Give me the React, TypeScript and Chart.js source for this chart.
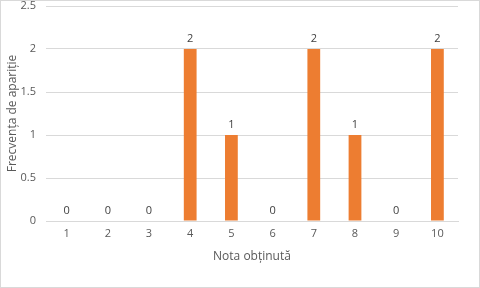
import React, { useEffect, useRef } from "react";
import { Chart, registerables } from "chart.js";

Chart.register(...registerables);

const categories = ["1", "2", "3", "4", "5", "6", "7", "8", "9", "10"];
const frequencies = [0, 0, 0, 2, 1, 0, 2, 1, 0, 2];
const yTitle = "Frecvența de apariție";
const xTitle = "Nota obținută";

const FONT = "'Open Sans', 'DejaVu Sans', sans-serif";

const labelPlugin = {
  id: "valueLabels",
  afterDatasetsDraw(chart: any) {
    const ctx = chart.ctx;
    const meta = chart.getDatasetMeta(0);
    ctx.save();
    ctx.fillStyle = "#404040";
    ctx.font = `11px ${FONT}`;
    ctx.textAlign = "center";
    ctx.textBaseline = "bottom";
    meta.data.forEach((bar: any, i: number) => {
      ctx.fillText(String(frequencies[i]), bar.x, bar.y - 5);
    });
    ctx.restore();
  },
};

export default function App() {
  const ref = useRef<HTMLCanvasElement>(null);
  useEffect(() => {
    document.body.style.margin = "0";
    const chart = new Chart(ref.current!, {
      type: "bar",
      data: {
        labels: categories,
        datasets: [
          {
            data: frequencies,
            backgroundColor: "#ED7D31",
            barPercentage: 0.31,
            categoryPercentage: 1,
          },
        ],
      },
      options: {
        animation: false,
        responsive: false,
        devicePixelRatio: 1,
        layout: { padding: { top: 5, right: 21, bottom: 19, left: 0 } },
        plugins: { legend: { display: false }, tooltip: { enabled: false } },
        scales: {
          x: {
            grid: { display: false, drawTicks: false },
            border: { display: true, color: "#d9d9d9", width: 1 },
            ticks: { color: "#595959", font: { family: FONT, size: 11 }, padding: 6 },
            title: {
              display: true,
              text: xTitle,
              color: "#595959",
              font: { family: FONT, size: 12 },
              padding: { top: 4, bottom: 4 },
            },
            afterFit: (s: any) => {
              s.height = 47;
              s.paddingLeft = 0;
              s.paddingRight = 0;
            },
          },
          y: {
            min: 0,
            max: 2.5,
            grid: { color: "#d9d9d9", drawTicks: false },
            border: { display: false },
            ticks: {
              stepSize: 0.5,
              color: "#595959",
              font: { family: FONT, size: 11 },
              padding: 10,
              callback: (v: any) => String(Number(v)),
            },
            title: {
              display: true,
              text: yTitle,
              color: "#595959",
              font: { family: FONT, size: 12 },
              padding: { top: 4, bottom: 4 },
            },
            afterFit: (s: any) => {
              s.width = 45;
              s.paddingTop = 0;
              s.paddingBottom = 0;
            },
          },
        },
      },
      plugins: [labelPlugin],
    });
    return () => chart.destroy();
  }, []);
  return (
    <div
      style={{
        position: "absolute",
        left: 0,
        top: 0,
        width: 480,
        height: 288,
        boxSizing: "border-box",
        border: "1px solid #d9d9d9",
        background: "#fff",
      }}
    >
      <canvas ref={ref} width={478} height={286} style={{ display: "block" }} />
    </div>
  );
}
